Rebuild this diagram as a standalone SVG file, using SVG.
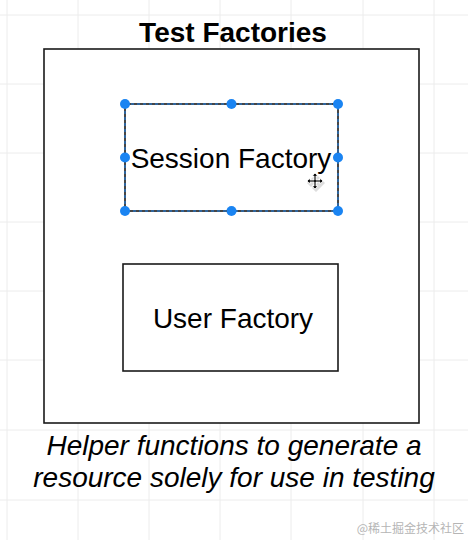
<svg xmlns="http://www.w3.org/2000/svg" width="468" height="540" viewBox="0 0 468 540">
<defs>
<style>
.grid{stroke:#ececec;stroke-width:1}
.box{fill:#fff;stroke:#1a1a1a;stroke-width:1.6}
.lbl{font-family:"Liberation Sans",Arial,sans-serif;font-size:28px;fill:#000;text-anchor:middle}
.title{font-weight:bold}
.cap{font-style:italic}
.h{fill:#1a84f2}
.sel{fill:none;stroke:#1a84f2;stroke-width:1;stroke-dasharray:3 3}
</style>
</defs>
<rect width="468" height="540" fill="#fff"/>
<g id="grid">
<path class="grid" d="M7 0V540M78 0V540M149 0V540M220 0V540M291 0V540M363 0V540M434 0V540M0 15H468M0 84H468M0 153H468M0 222H468M0 291H468M0 360H468M0 430H468M0 500H468"/>
</g>
<g id="test-factories">
<rect class="box" x="44" y="49" width="375" height="374" stroke-width="2"/>
<text class="lbl title" x="233" y="42">Test Factories</text>
</g>
<g id="session-factory">
<rect class="box" x="125" y="104" width="213" height="107"/>
<rect class="sel" x="125" y="104" width="213" height="107"/>
<text class="lbl" x="231" y="168">Session Factory</text>
<circle class="h" cx="125" cy="104" r="5"/>
<circle class="h" cx="231.5" cy="104" r="5"/>
<circle class="h" cx="338" cy="104" r="5"/>
<circle class="h" cx="125" cy="157.5" r="5"/>
<circle class="h" cx="338" cy="157.5" r="5"/>
<circle class="h" cx="125" cy="211" r="5"/>
<circle class="h" cx="231.5" cy="211" r="5"/>
<circle class="h" cx="338" cy="211" r="5"/>
<g id="cursor" transform="translate(315 181)">
<path d="M0 -9L5 -4 0 1 -5 -4Z M0 9L5 4 0 -1 -5 4Z M-9 0L-4 -5 1 0 -4 5Z M9 0L4 -5 -1 0 4 5Z" fill="#ddd" transform="translate(1 2)"/>
<path d="M0 -8L3 -5H1V-1H5V-3L8 0 5 3V1H1V5H3L0 8 -3 5H-1V1H-5V3L-8 0 -5 -3V-1H-1V-5H-3Z" fill="#111" stroke="#fff" stroke-width="0.8"/>
</g>
</g>
<g id="user-factory">
<rect class="box" x="123" y="264" width="215" height="107"/>
<text class="lbl" x="233" y="328">User Factory</text>
</g>
<g id="connectors"></g>
<g id="caption">
<text class="lbl cap" x="234" y="455">Helper functions to generate a</text>
<text class="lbl cap" x="234" y="487">resource solely for use in testing</text>
</g>
<text x="464" y="533" font-family="'Noto Sans CJK SC',sans-serif" font-size="12" fill="#b5b5b5" text-anchor="end">@稀土掘金技术社区</text>
</svg>
